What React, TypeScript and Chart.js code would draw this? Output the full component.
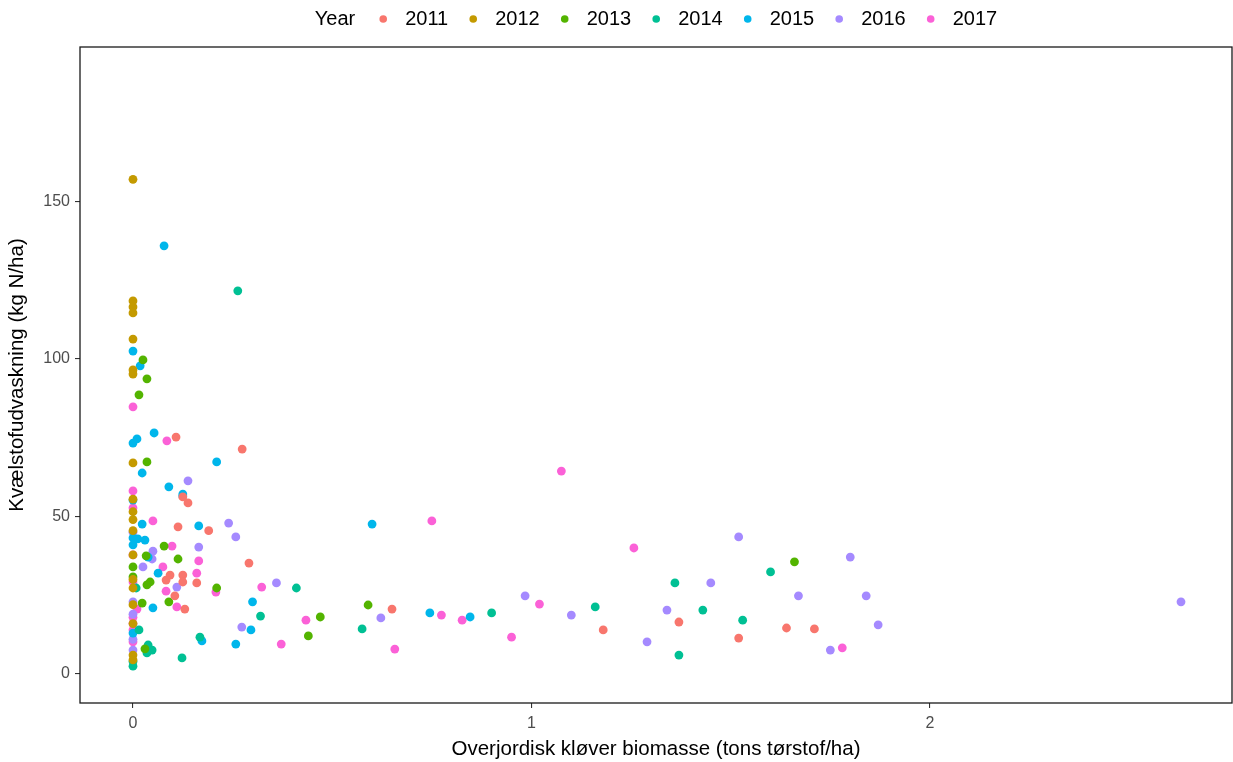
import React, { useEffect, useRef } from "react";
import { Chart, registerables } from "chart.js";

Chart.register(...registerables);

const years = ["2011", "2012", "2013", "2014", "2015", "2016", "2017"];
const colors = ["#F8766D", "#C49A00", "#53B400", "#00C094", "#00B6EB", "#A58AFF", "#FB61D7"];

const x2011 = [0.108, 0.274, 0.125, 0.138, 0.113, 0.19, 0.291, 0.093, 0.083, 0.125, 0.125, 0.16, 0.105, 0.13, 0.65, 1.18, 1.37, 1.52, 1.64, 1.71];
const y2011 = [75.2, 71.4, 56.2, 54.3, 46.7, 45.5, 35.2, 31.4, 29.8, 31.4, 29.2, 28.9, 24.8, 20.6, 20.6, 14, 16.5, 11.4, 14.6, 14.3];

const x2012 = [0, 0, 0, 0, 0, 0, 0, 0, 0, 0, 0, 0, 0, 0, 0, 0, 0, 0, 0];
const y2012 = [157, 118.4, 116.5, 114.6, 106.3, 96.5, 95.2, 67, 55.5, 51.5, 49, 45.5, 37.8, 30, 27.3, 22, 16, 6, 4.5];

const x2013 = [0.025, 0.035, 0.015, 0.035, 0.078, 0.033, 0.113, 0, 0.043, 0.035, 0.09, 0.023, 0.21, 0.59, 0.47, 0.44, 1.66, 0, 0.03];
const y2013 = [99.7, 93.7, 88.6, 67.3, 40.6, 37.5, 36.5, 34, 29.2, 28.3, 22.9, 22.5, 27.3, 21.9, 18.1, 12.1, 35.6, 30.8, 8];

const x2014 = [0.263, 0.008, 0.015, 0.168, 0.038, 0.048, 0.035, 0.123, 0, 0, 0.41, 0.32, 0.575, 0.9, 1.16, 1.36, 1.43, 1.37, 1.53, 1.6];
const y2014 = [121.6, 27.3, 14, 11.7, 9.2, 7.6, 6.7, 5.1, 4, 2.5, 27.3, 18.4, 14.3, 19.4, 21.3, 28.9, 20.3, 6, 17.1, 32.4];

const x2015 = [0.078, 0, 0.018, 0, 0.01, 0.053, 0.023, 0.09, 0.125, 0.21, 0, 0.023, 0.165, 0, 0.012, 0.03, 0, 0.038, 0.063, 0.05, 0, 0.3, 0.296, 0.258, 0.173, 0.6, 0.745, 0.846, 0.125];
const y2015 = [135.9, 102.5, 97.8, 73.3, 74.6, 76.5, 63.8, 59.4, 57.1, 67.3, 55.2, 47.6, 47, 43.2, 42.9, 42.5, 41, 37.1, 32, 21, 13, 22.9, 14, 9.5, 10.5, 47.6, 19.4, 18.1, 56.5];

const x2016 = [0.138, 0.24, 0.258, 0.165, 0.05, 0, 0.048, 0.025, 0.11, 0.36, 0, 0.273, 0, 0.622, 0.984, 1.1, 1.29, 1.34, 1.45, 1.52, 1.67, 1.75, 1.8, 1.84, 1.87, 2.63, 0, 0];
const y2016 = [61.3, 47.9, 43.5, 40.3, 39, 45, 36.5, 34, 27.6, 28.9, 22.9, 14.9, 7.6, 17.8, 24.8, 18.7, 10.2, 20.3, 28.9, 43.5, 24.8, 7.6, 37.1, 24.8, 15.6, 22.9, 19, 11];

const x2017 = [0, 0.085, 0, 0, 0.05, 0.098, 0, 0.075, 0.165, 0.16, 0, 0.083, 0.208, 0.323, 0.11, 0.01, 0, 0, 0, 0, 0.372, 0.434, 0.657, 0.75, 0.774, 0.826, 0.95, 1.02, 1.075, 1.257, 1.78];
const y2017 = [84.8, 74, 58.1, 52.7, 48.6, 40.6, 37.8, 34, 35.9, 32, 29.2, 26.3, 26, 27.6, 21.3, 20.6, 18, 16, 14, 10.2, 9.5, 17.1, 7.9, 48.6, 18.7, 17.1, 11.7, 22.2, 64.4, 40, 8.3];

const xs = [x2011, x2012, x2013, x2014, x2015, x2016, x2017];
const ys = [y2011, y2012, y2013, y2014, y2015, y2016, y2017];

const xTicks = [0, 1, 2];
const yTicks = [0, 50, 100, 150];

const legendTitle = "Year";
const xTitle = "Overjordisk kløver biomasse (tons tørstof/ha)";
const yTitle = "Kvælstofudvaskning (kg N/ha)";

const FONT = "'Liberation Sans', Arial, sans-serif";

const framePlugin = {
  id: "frame",
  afterDraw(chart: any) {
    const { ctx, chartArea } = chart;
    ctx.save();
    ctx.strokeStyle = "#1a1a1a";
    ctx.lineWidth = 1.3;
    ctx.strokeRect(chartArea.left, chartArea.top, chartArea.right - chartArea.left, chartArea.bottom - chartArea.top);
    // legend
    ctx.font = `20px ${FONT}`;
    ctx.textBaseline = "middle";
    ctx.fillStyle = "#000000";
    const titleW = ctx.measureText(legendTitle).width;
    const labelWs = years.map((y) => ctx.measureText(y).width);
    const gapTitle = 28;
    const gapDotText = 22;
    const gapTextDot = 25;
    let total = titleW + gapTitle;
    labelWs.forEach((w, i) => {
      total += gapDotText + w + (i < labelWs.length - 1 ? gapTextDot : 0);
    });
    const cx = (chartArea.left + chartArea.right) / 2;
    let x = cx - total / 2;
    const yMid = 19;
    ctx.textAlign = "left";
    ctx.fillText(legendTitle, x, yMid);
    x += titleW + gapTitle;
    years.forEach((yr, i) => {
      ctx.beginPath();
      ctx.fillStyle = colors[i];
      ctx.arc(x, yMid, 3.8, 0, Math.PI * 2);
      ctx.fill();
      ctx.fillStyle = "#000000";
      ctx.fillText(yr, x + gapDotText, yMid);
      x += gapDotText + labelWs[i] + gapTextDot;
    });
    ctx.restore();
  },
};

export default function App() {
  const ref = useRef<HTMLCanvasElement | null>(null);
  useEffect(() => {
    if (!ref.current) return;
    const datasets = years.map((yr, i) => ({
      label: yr,
      data: xs[i].map((v, j) => ({ x: v, y: ys[i][j] })),
      backgroundColor: colors[i],
      borderWidth: 0,
      pointRadius: 4.4,
      pointHoverRadius: 4.4,
    }));
    const chart = new Chart(ref.current, {
      type: "scatter",
      data: { datasets },
      plugins: [framePlugin],
      options: {
        animation: false,
        responsive: false,
        devicePixelRatio: 1,
        layout: { autoPadding: false, padding: { top: 47, right: 1, left: 0, bottom: 0 } },
        plugins: { legend: { display: false }, tooltip: { enabled: false } },
        scales: {
          x: {
            type: "linear",
            min: -0.133,
            max: 2.758,
            afterBuildTicks: (s: any) => {
              s.ticks = xTicks.map((v) => ({ value: v }));
            },
            afterFit: (s: any) => {
              s.height = 59;
            },
            grid: { drawOnChartArea: false, drawTicks: true, tickLength: 5, color: "#333333", lineWidth: 1.1 },
            border: { display: false },
            ticks: { color: "#4D4D4D", font: { family: FONT, size: 16 }, padding: 6 },
            title: { display: true, text: xTitle, color: "#000000", font: { family: FONT, size: 20.5 }, padding: { top: 2, bottom: 0 } },
          },
          y: {
            type: "linear",
            min: -9.2,
            max: 199,
            afterBuildTicks: (s: any) => {
              s.ticks = yTicks.map((v) => ({ value: v }));
            },
            afterFit: (s: any) => {
              s.width = 80;
            },
            grid: { drawOnChartArea: false, drawTicks: true, tickLength: 5, color: "#333333", lineWidth: 1.1 },
            border: { display: false },
            ticks: { color: "#4D4D4D", font: { family: FONT, size: 16 }, padding: 5 },
            title: { display: true, text: yTitle, color: "#000000", font: { family: FONT, size: 20.5 }, padding: { top: 5, bottom: 4 } },
          },
        },
      },
    });
    return () => chart.destroy();
  }, []);
  return (
    <div style={{ position: "fixed", left: 0, top: 0, width: 1233, height: 762, background: "#fff" }}>
      <canvas ref={ref} width={1233} height={762} style={{ width: 1233, height: 762 }} />
    </div>
  );
}
